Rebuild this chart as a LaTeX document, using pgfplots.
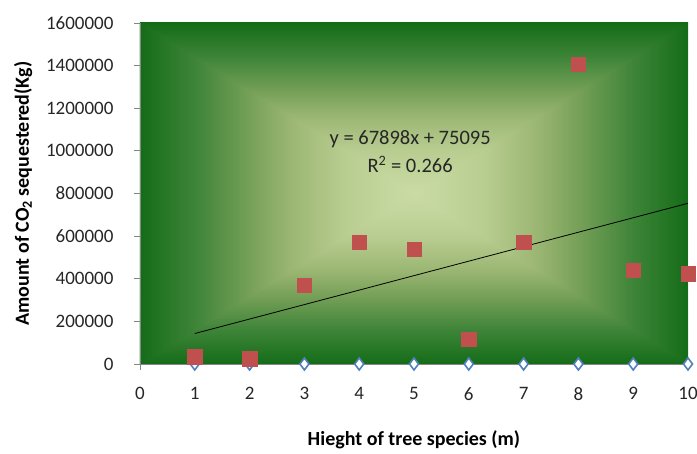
\documentclass[border=0pt]{standalone}
\usepackage{pgfplots}
\pgfplotsset{compat=1.18}
\usepackage{fontspec}
\setmainfont{Carlito}

\definecolor{pointred}{RGB}{192,80,77}
\definecolor{diamondblue}{RGB}{79,129,189}
\definecolor{axisgray}{RGB}{134,134,134}

% centre (25bp) -> edge (75bp) of the plot-area gradient
\pgfdeclareverticalshading{centretoedge}{100bp}{%
  rgb(0bp)=(0.792,0.863,0.647);
  rgb(25bp)=(0.792,0.863,0.647);
  rgb(37.5bp)=(0.725,0.804,0.569);
  rgb(47.5bp)=(0.608,0.714,0.451);
  rgb(55bp)=(0.463,0.627,0.345);
  rgb(65bp)=(0.243,0.518,0.220);
  rgb(75bp)=(0.078,0.424,0.094);
  rgb(100bp)=(0.078,0.424,0.094)}

\begin{document}
\begin{tikzpicture}
\begin{axis}[
  set layers,
  width=548pt, height=341pt,
  scale only axis,
  xmin=0, xmax=10,
  ymin=0, ymax=1600000,
  xtick={0,1,2,3,4,5,6,7,8,9,10},
  xticklabels={0,1,2,3,4,5,6,7,8,9,10},
  ytick={0,200000,400000,600000,800000,1000000,1200000,1400000,1600000},
  yticklabels={0,200000,400000,600000,800000,1000000,1200000,1400000,1600000},
  scaled y ticks=false,
  axis lines*=left,
  axis line style={axisgray, line width=0.8pt},
  tick style={axisgray, line width=0.8pt},
  tick align=outside,
  major tick length=6pt,
  ticklabel style={font=\fontsize{19}{23}\selectfont, text=black!85},
  xticklabel style={yshift=-14pt},
  yticklabel style={xshift=-17pt},
  xlabel={\textbf{Hieght of tree species (m)}},
  ylabel={\textbf{Amount of CO\textsubscript{2} sequestered(Kg)}},
  label style={font=\fontsize{20}{24}\selectfont},
  xlabel style={yshift=-23pt},
  ylabel style={yshift=7pt},
  clip=false,
]
\begin{pgfonlayer}{axis background}
  \shade[shading=centretoedge]
    (rel axis cs:0,0.5) rectangle (rel axis cs:1,1);
  \shade[shading=centretoedge, shading angle=180]
    (rel axis cs:0,0) rectangle (rel axis cs:1,0.5);
  \begin{scope}
    \clip (rel axis cs:0,0) -- (rel axis cs:0,1) -- (rel axis cs:0.5,0.5) -- cycle;
    \shade[shading=centretoedge, shading angle=90]
      (rel axis cs:0,0) rectangle (rel axis cs:0.5,1);
  \end{scope}
  \begin{scope}
    \clip (rel axis cs:1,0) -- (rel axis cs:1,1) -- (rel axis cs:0.5,0.5) -- cycle;
    \shade[shading=centretoedge, shading angle=270]
      (rel axis cs:0.5,0) rectangle (rel axis cs:1,1);
  \end{scope}
\end{pgfonlayer}

% zero series (blue diamonds)
\addplot[only marks, mark=diamond*, mark size=6pt,
  mark options={fill=white, draw=diamondblue, line width=1.6pt}]
  coordinates {(1,0) (2,0) (3,0) (4,0) (5,0) (6,0) (7,0) (8,0) (9,0) (10,0)};

% linear trendline y = 67898x + 75095
\addplot[black, line width=0.8pt] coordinates {(1,142993) (10,754075)};

% measured CO2
\addplot[only marks, mark=square*, mark size=7.2pt,
  mark options={fill=pointred, draw=pointred, line width=0.3pt}]
  coordinates {
    (1,35000) (2,25000) (3,370000) (4,573000) (5,540000)
    (6,117000) (7,573000) (8,1408000) (9,441000) (10,423000)
  };

\node[font=\fontsize{20.5}{24}\selectfont, text=black!85, align=center]
  at (axis cs:4.93,995000)
  {y = 67898x + 75095\\[4pt] R\textsuperscript{2} = 0.266};

\coordinate (bl) at (rel axis cs:0,0);
\coordinate (tr) at (rel axis cs:1,1);
\end{axis}
\pgfresetboundingbox
\path ([shift={(-140pt,-90pt)}]bl) rectangle ([shift={(9pt,23pt)}]tr);
\end{tikzpicture}
\end{document}
